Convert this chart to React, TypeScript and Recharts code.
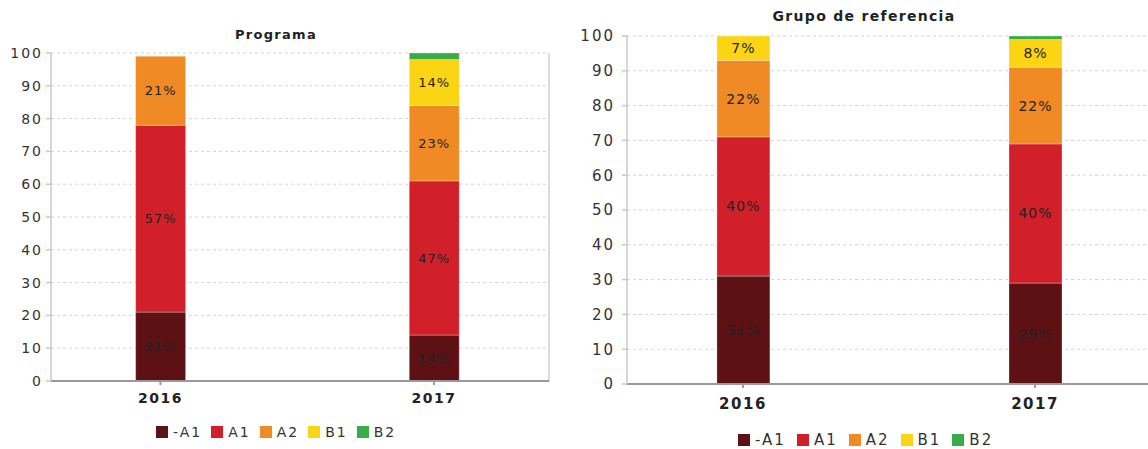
import { Bar, BarChart, CartesianGrid, LabelList, Legend, ReferenceLine, XAxis, YAxis } from "recharts"

const years = [2016, 2017]
const levels = ["-A1", "A1", "A2", "B1", "B2"]
const colors = ["#5e1115", "#d2202a", "#f08a24", "#fbd413", "#3aab49"]
const yTicks = [0, 10, 20, 30, 40, 50, 60, 70, 80, 90, 100]

// Programa
const progPreA1 = [21, 14]
const progA1 = [57, 47]
const progA2 = [21, 23]
const progB1 = [0, 14]
const progB2 = [0, 2]

// Grupo de referencia
const refPreA1 = [31, 29]
const refA1 = [40, 40]
const refA2 = [22, 22]
const refB1 = [7, 8]
const refB2 = [0, 1]

const keys = ["preA1", "a1", "a2", "b1", "b2"]

const toRows = (series: number[][]) =>
  years.map((year, i) => {
    const row: Record<string, number> = { year }
    keys.forEach((k, j) => (row[k] = series[j][i]))
    return row
  })

const progData = toRows([progPreA1, progA1, progA2, progB1, progB2])
const refData = toRows([refPreA1, refA1, refA2, refB1, refB2])

const font = "'DejaVu Sans', Verdana, sans-serif"

function LegendRow({ fontSize, gap }: { fontSize: number; gap: number }) {
  return (
    <div
      style={{
        display: "flex",
        alignItems: "center",
        fontFamily: font,
        fontSize,
        letterSpacing: 2,
        color: "#333",
        height: 18,
      }}
    >
      {levels.map((name, i) => (
        <div key={name} style={{ display: "flex", alignItems: "center", marginRight: gap }}>
          <span style={{ width: 12, height: 12, background: colors[i], display: "inline-block", marginRight: 5 }} />
          <span>{name}</span>
        </div>
      ))}
    </div>
  )
}

type PanelProps = {
  title: string
  data: Record<string, number>[]
  left: number
  width: number
  top: number
  bottom: number
  right: number
  yWidth: number
  domain: [number, number]
  barSize: number
  titleX: number
  titleY: number
  titleSize: number
  legendLeft: number
  legendTop: number
  fontSize: number
  legendGap: number
  xTickMargin: number
  border: boolean
}

function Panel(p: PanelProps) {
  return (
    <div style={{ position: "absolute", left: p.left, top: 0, width: p.width, height: 449 }}>
      <div
        style={{
          position: "absolute",
          left: p.titleX - p.left - 150,
          width: 300,
          top: p.titleY - 9,
          textAlign: "center",
          fontFamily: font,
          fontWeight: "bold",
          fontSize: p.titleSize,
          letterSpacing: 1.3,
          color: "#222",
        }}
      >
        {p.title}
      </div>
      <BarChart
        width={p.width}
        height={449}
        data={p.data}
        margin={{ top: p.top, right: p.right, left: 0, bottom: p.bottom }}
        style={{ fontFamily: font }}
      >
        <CartesianGrid vertical={false} stroke="#d4d4d4" strokeDasharray="3 3" />
        <XAxis
          dataKey="year"
          type="number"
          domain={p.domain}
          ticks={years}
          allowDataOverflow
          height={30}
          stroke="#9a9a9a"
          strokeWidth={2}
          tickSize={4}
          tickMargin={p.xTickMargin}
          tick={{ fill: "#222", fontSize: p.fontSize, fontWeight: "bold", letterSpacing: 1.5 }}
        />
        <YAxis
          domain={[0, 100]}
          ticks={yTicks}
          width={p.yWidth}
          stroke="#c8c8c8"
          strokeWidth={1.5}
          tickSize={5}
          tickMargin={p.border ? 3 : 7}
          tick={{ fill: "#333", fontSize: p.fontSize, letterSpacing: 2 }}
        />
        {p.border && <ReferenceLine x={p.domain[1]} stroke="#cfcfcf" strokeWidth={1.5} />}
        {keys.map((k, i) => (
          <Bar
            key={k}
            dataKey={k}
            name={levels[i]}
            stackId="s"
            fill={colors[i]}
            stroke="rgba(255,255,255,0.3)"
            barSize={p.barSize}
            isAnimationActive={false}
          >
            <LabelList
              dataKey={k}
              position="center"
              fill="#222"
              fontSize={p.fontSize - 1}
              letterSpacing={1}
              formatter={(v: number) => (v >= 5 ? `${v}%` : "")}
            />
          </Bar>
        ))}
        <Legend
          content={() => <LegendRow fontSize={p.fontSize} gap={p.legendGap} />}
          wrapperStyle={{ left: p.legendLeft, top: p.legendTop - 9, bottom: "auto", width: "auto" }}
        />
      </BarChart>
    </div>
  )
}

export default function App() {
  return (
    <div style={{ position: "absolute", left: 0, top: 0, width: 1148, height: 449, overflow: "hidden", background: "#fff" }}>
      <Panel
        title="Programa"
        data={progData}
        left={0}
        width={560}
        top={53}
        bottom={20}
        right={11}
        yWidth={51}
        domain={[2015.6, 2017.42]}
        barSize={50}
        titleX={276}
        titleY={36}
        titleSize={13}
        legendLeft={156}
        legendTop={432}
        fontSize={14}
        legendGap={9}
        xTickMargin={8}
        border
      />
      <Panel
        title="Grupo de referencia"
        data={refData}
        left={580}
        width={580}
        top={36}
        bottom={17}
        right={9}
        yWidth={47}
        domain={[2015.603, 2017.397]}
        barSize={53}
        titleX={864}
        titleY={17}
        titleSize={14}
        legendLeft={158}
        legendTop={440}
        fontSize={15}
        legendGap={11}
        xTickMargin={10}
        border={false}
      />
    </div>
  )
}
